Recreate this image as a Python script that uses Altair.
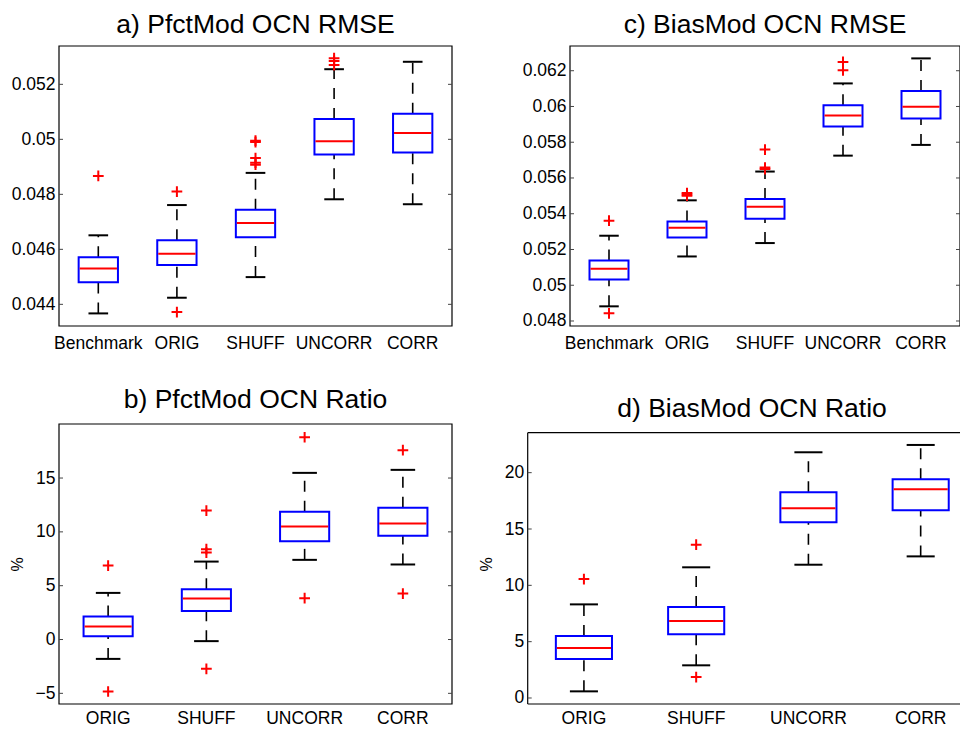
import altair as alt
import pandas as pd

FONT = "Liberation Sans"

# ---------------- a) PfctMod OCN RMSE ----------------
a_cats = ["Benchmark", "ORIG", "SHUFF", "UNCORR", "CORR"]
a_lower = [0.04367, 0.04424, 0.04499, 0.04782, 0.04764]
a_q1 = [0.04480, 0.04543, 0.04644, 0.04945, 0.04952]
a_median = [0.04530, 0.04584, 0.04696, 0.04993, 0.05023]
a_q3 = [0.04571, 0.04633, 0.04744, 0.05074, 0.05093]
a_upper = [0.04651, 0.04761, 0.04878, 0.05255, 0.05282]
a_out_cat = ["Benchmark", "ORIG", "ORIG", "SHUFF", "SHUFF", "SHUFF", "SHUFF", "SHUFF",
             "UNCORR", "UNCORR", "UNCORR"]
a_out_val = [0.04867, 0.04810, 0.04372, 0.04995, 0.04990, 0.04932, 0.04915, 0.04908,
             0.05295, 0.05285, 0.05270]
a_ticks = [0.044, 0.046, 0.048, 0.050, 0.052]

# ---------------- c) BiasMod OCN RMSE ----------------
c_cats = ["Benchmark", "ORIG", "SHUFF", "UNCORR", "CORR"]
c_lower = [0.04882, 0.05161, 0.05236, 0.05725, 0.05785]
c_q1 = [0.05032, 0.05267, 0.05372, 0.05888, 0.05933]
c_median = [0.05092, 0.05321, 0.05439, 0.05950, 0.05998]
c_q3 = [0.05138, 0.05357, 0.05482, 0.06007, 0.06086]
c_upper = [0.05277, 0.05475, 0.05636, 0.06129, 0.06269]
c_out_cat = ["Benchmark", "Benchmark", "ORIG", "ORIG", "ORIG", "SHUFF", "SHUFF", "SHUFF",
             "UNCORR", "UNCORR"]
c_out_val = [0.05361, 0.04843, 0.05516, 0.05508, 0.05501, 0.05759, 0.05658, 0.05650,
             0.06249, 0.06202]
c_ticks = [0.048, 0.050, 0.052, 0.054, 0.056, 0.058, 0.060, 0.062]

# ---------------- b) PfctMod OCN Ratio ----------------
b_cats = ["ORIG", "SHUFF", "UNCORR", "CORR"]
b_lower = [-1.80, -0.15, 7.40, 6.97]
b_q1 = [0.31, 2.66, 9.13, 9.63]
b_median = [1.21, 3.81, 10.50, 10.77]
b_q3 = [2.14, 4.67, 11.86, 12.23]
b_upper = [4.33, 7.24, 15.48, 15.76]
b_out_cat = ["ORIG", "ORIG", "SHUFF", "SHUFF", "SHUFF", "SHUFF", "UNCORR", "UNCORR",
             "CORR", "CORR"]
b_out_val = [6.87, -4.83, 11.98, 8.39, 8.08, -2.72, 18.79, 3.84, 17.59, 4.27]
b_ticks = [-5, 0, 5, 10, 15]

# ---------------- d) BiasMod OCN Ratio ----------------
d_cats = ["ORIG", "SHUFF", "UNCORR", "CORR"]
d_lower = [0.59, 2.90, 11.83, 12.57]
d_q1 = [3.46, 5.65, 15.59, 16.66]
d_median = [4.44, 6.83, 16.84, 18.52]
d_q3 = [5.50, 8.08, 18.26, 19.41]
d_upper = [8.31, 11.60, 21.81, 22.46]
d_out_cat = ["ORIG", "SHUFF", "SHUFF"]
d_out_val = [10.56, 13.61, 1.86]
d_ticks = [0, 5, 10, 15, 20]

CROSS = "M-1,0H1M0,-1V1"
NOVIEW = alt.ViewBackground(stroke="transparent", strokeWidth=0)


def make_panel(cats, lower, q1, med, q3, upper, out_cat, out_val, ydomain, yticks,
               title, W, H, xrange=None, yoffset=0.0, ytitle=None, frame_top=None,
               right_ticks=True, title_dx=0, title_offset=10, xlabel_pad=8):
    stats = pd.DataFrame(dict(cat=cats, lower=lower, q1=q1, med=med, q3=q3, upper=upper))
    outs = pd.DataFrame(dict(cat=out_cat, val=out_val))
    tdf = pd.DataFrame(dict(v=yticks))
    one = pd.DataFrame(dict(k=[0]))
    xr = xrange if xrange is not None else [0, W]
    band = (xr[1] - xr[0]) / len(cats)

    xscale = alt.Scale(domain=cats, range=xr, paddingInner=0, paddingOuter=0)
    xaxis = alt.Axis(title=None, labelAngle=0, ticks=False, tickSize=0, domain=False,
                     labelPadding=xlabel_pad, labelFontSize=17.5, labelColor="black",
                     labelFont=FONT)
    yscale = alt.Scale(domain=ydomain, nice=False, zero=False)
    yax_kw = dict(values=yticks, format="~g", ticks=False, tickSize=0, domain=False,
                  grid=False, labelPadding=4, labelFontSize=17.5, labelColor="black",
                  labelFont=FONT, offset=yoffset)
    if ytitle:
        yax_kw.update(title=ytitle, titleFontSize=16, titleFontWeight="normal",
                      titleColor="black", titleFont=FONT, titlePadding=10)
    else:
        yax_kw.update(title=None)
    yaxis = alt.Axis(**yax_kw)

    X = alt.X("cat:N", scale=xscale, axis=xaxis)

    def Y(f):
        return alt.Y(f, type="quantitative", scale=yscale, axis=yaxis)

    x0 = -yoffset
    fr = dict(color="black", strokeWidth=1.2)
    layers = []
    # plot frame
    if frame_top is None:
        layers.append(alt.Chart(one).mark_rect(
            fill="transparent", stroke="black", strokeWidth=1.2
        ).encode(x=alt.value(0), x2=alt.value(W), y=alt.value(0), y2=alt.value(H)))
    else:
        layers.append(alt.Chart(one).mark_rule(**fr).encode(
            y=alt.datum(frame_top), x=alt.value(x0), x2=alt.value(W)))
        layers.append(alt.Chart(one).mark_rule(**fr).encode(
            y=alt.datum(ydomain[0]), x=alt.value(x0), x2=alt.value(W)))
        layers.append(alt.Chart(one).mark_rule(**fr).encode(
            x=alt.value(x0), y=alt.datum(frame_top), y2=alt.datum(ydomain[0])))
    # inward tick marks (MATLAB style)
    layers.append(alt.Chart(tdf).mark_rule(color="#444", strokeWidth=1).encode(
        y=Y("v"), x=alt.value(x0), x2=alt.value(x0 + 4)))
    if right_ticks:
        layers.append(alt.Chart(tdf).mark_rule(color="#444", strokeWidth=1).encode(
            y=Y("v"), x=alt.value(W - 4), x2=alt.value(W)))

    wh = dict(color="black", strokeWidth=1.6, strokeDash=[11, 9])
    layers.append(alt.Chart(stats).mark_rule(**wh).encode(x=X, y=Y("lower"), y2="q1"))
    layers.append(alt.Chart(stats).mark_rule(**wh).encode(x=X, y=Y("q3"), y2="upper"))
    cap = dict(color="black", size=band * 0.25, thickness=2, opacity=1)
    layers.append(alt.Chart(stats).mark_tick(**cap).encode(x=X, y=Y("lower")))
    layers.append(alt.Chart(stats).mark_tick(**cap).encode(x=X, y=Y("upper")))
    layers.append(alt.Chart(stats).mark_bar(
        width=alt.RelativeBandSize(0.5), fill="white", stroke="#0000ff", strokeWidth=2
    ).encode(x=X, y=Y("q1"), y2="q3"))
    layers.append(alt.Chart(stats).mark_tick(
        color="#ff0000", size=band * 0.5 - 2, thickness=2, opacity=1
    ).encode(x=X, y=Y("med")))
    layers.append(alt.Chart(outs).mark_point(
        shape=CROSS, size=115, stroke="#ff0000", strokeWidth=2, filled=False, opacity=1
    ).encode(x=X, y=Y("val")))

    ch = alt.layer(*layers).properties(
        width=W, height=H, view=NOVIEW,
        title=alt.TitleParams(title, fontSize=26.5, font=FONT, fontWeight="normal",
                              color="black", anchor="middle",
                              offset=title_offset, dx=title_dx),
    )
    return ch


pa = make_panel(a_cats, a_lower, a_q1, a_median, a_q3, a_upper, a_out_cat, a_out_val,
                [0.043212, 0.053394], a_ticks, "a) PfctMod OCN RMSE", 393, 280,
                title_offset=7)
pc = make_panel(c_cats, c_lower, c_q1, c_median, c_q3, c_upper, c_out_cat, c_out_val,
                [0.04772, 0.063383], c_ticks, "c) BiasMod OCN RMSE", 390, 280,
                title_offset=7)
pb = make_panel(b_cats, b_lower, b_q1, b_median, b_q3, b_upper, b_out_cat, b_out_val,
                [-5.99, 20.02], b_ticks, "b) PfctMod OCN Ratio", 393, 280, ytitle="%",
                title_offset=10, xlabel_pad=5)
pd_ = make_panel(d_cats, d_lower, d_q1, d_median, d_q3, d_upper, d_out_cat, d_out_val,
                 [-0.533, 24.32], d_ticks, "d) BiasMod OCN Ratio", 390, 280,
                 xrange=[-42.2, 406.8], yoffset=42.3, ytitle="%", frame_top=23.55,
                 right_ticks=False, title_dx=-13, title_offset=2, xlabel_pad=5)

# svg kept at 952 x 719 so that the page (8px margins) never exceeds the window
chart = alt.concat(pa, pc, pb, pd_, columns=2, bounds="flush",
                   spacing={"row": 98, "column": 118}).properties(
    autosize=alt.AutoSizeParams(type="none"),
    padding={"left": 51, "top": 38, "right": 901, "bottom": 681},
).configure_view(stroke="transparent", strokeWidth=0).configure(font=FONT)

chart.save("out.html", embed_options={"renderer": "svg", "actions": False})
